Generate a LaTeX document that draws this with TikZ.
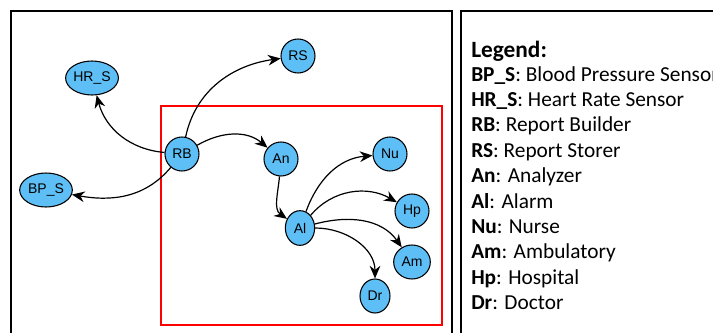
\documentclass[tikz,border=0pt]{standalone}
\usepackage{fontspec}
\setmainfont{Carlito}
\newfontfamily\nodefont{Liberation Sans}
\usetikzlibrary{shapes.geometric}
\usetikzlibrary{arrows.meta}
\definecolor{nodeblue}{RGB}{94,191,246}
\tikzstyle{comp}=[circle, draw=black, fill=nodeblue, line width=0.8pt, minimum size=25.5pt, inner sep=0pt, font=\nodefont\fontsize{10.5}{12}\selectfont]
\tikzstyle{sensor}=[comp, ellipse, minimum width=39.5pt, minimum height=25.5pt]
\tikzstyle{link}=[-{Stealth[length=9.5pt,width=8pt]}, line width=0.9pt]
\tikzstyle{legline}=[anchor=base west, inner sep=0pt, font=\fontsize{16}{18}\selectfont]

\begin{document}
\begin{tikzpicture}[x=0.75pt,y=0.75pt]
    \useasboundingbox (0,0) rectangle (713,-332);
    \clip (0,0) rectangle (713,-332);
    % frames
    \draw [line width=2pt] (11,-345) -- (11,-11) -- (452,-11) -- (452,-345);
    \draw [line width=2pt] (461,-345) -- (461,-11) -- (725,-11);
    \draw [red, line width=1.8pt] (161,-106) rectangle (442,-325);
    % components
    \node [comp] (RS) at (298,-56) {RS};
    \node [sensor] (HRS) at (92,-78) {HR\_S};
    \node [sensor] (BPS) at (46,-190) {BP\_S};
    \node [comp] (RB) at (182,-154) {RB};
    \node [comp] (An) at (281,-159) {An};
    \node [comp] (Nu) at (390,-154) {Nu};
    \node [comp] (Hp) at (412,-211) {Hp};
    \node [comp, ellipse, minimum width=22pt, minimum height=26pt] (Al) at (300,-228) {Al};
    \node [comp, ellipse, minimum width=27.5pt, minimum height=25.5pt] (Am) at (412,-262) {Am};
    \node [comp, ellipse, minimum width=22.5pt, minimum height=25.5pt] (Dr) at (375,-296) {Dr};
    % links
    \draw [link] (RB) to [out=78, in=188] (RS);
    \draw [link] (RB) to [out=175, in=-75] (HRS);
    \draw [link] (RB) to [out=230, in=-10] (BPS);
    \draw [link] (RB) to [out=30, in=140] (An);
    \draw [link] (An) to [out=-95, in=145] (Al);
    \draw [link] (Al) to [out=70, in=185] (Nu);
    \draw [link] (Al) to [out=50, in=150] (Hp);
    \draw [link] (Al) to [out=15, in=125] (Am);
    \draw [link] (Al) to [out=0, in=90] (Dr);
    % legend
    \node [legline, font=\bfseries\fontsize{17.5}{20}\selectfont] (legend) at (471,-57) {Legend:};
    \foreach \abbr/\desc [count=\i from 0] in {BP\_S/Blood Pressure Sensor, HR\_S/Heart Rate Sensor, RB/Report Builder, RS/Report Storer, An/Analyzer, Al/Alarm, Nu/Nurse, Am/Ambulatory, Hp/Hospital, Dr/Doctor}
        \node [legline] (leg\i) at (471,-81-25.4*\i) {\textbf{\abbr}: \desc};
\end{tikzpicture}
\end{document}
